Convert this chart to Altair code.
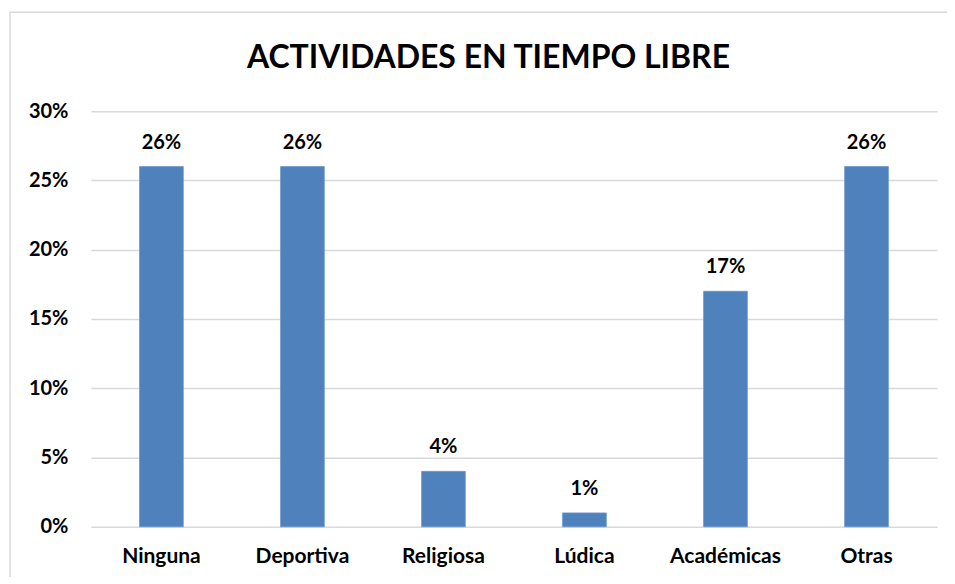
import altair as alt
import pandas as pd

categories = ["Ninguna", "Deportiva", "Religiosa", "Lúdica", "Académicas", "Otras"]
values = [0.26, 0.26, 0.04, 0.01, 0.17, 0.26]
labels = ["26%", "26%", "4%", "1%", "17%", "26%"]
title_text = "ACTIVIDADES EN TIEMPO LIBRE"

df = pd.DataFrame({"cat": categories, "val": values, "lab": labels})
FONT = "Lato"

x = alt.X("cat:N", sort=categories, title=None,
          scale=alt.Scale(paddingInner=0.69, paddingOuter=0.345),
          axis=alt.Axis(labelAngle=0, labelFont=FONT, labelFontSize=21, labelFontWeight="bold",
                        labelColor="#000000", labelPadding=19, ticks=False, domain=False, grid=False))
y = alt.Y("val:Q", title=None,
          scale=alt.Scale(domain=[0, 0.30]),
          axis=alt.Axis(values=[0, 0.05, 0.10, 0.15, 0.20, 0.25, 0.30], format=".0%",
                        labelFont=FONT, labelFontSize=20, labelFontWeight="bold", labelColor="#000000",
                        labelPadding=23, ticks=False, domain=False,
                        gridColor="#d9d9d9", gridWidth=1.5))

base = alt.Chart(df)
bars = base.mark_bar(color="#4F81BD", stroke="#6a96cc", strokeWidth=0.8).encode(x=x, y=y)
text = base.mark_text(font=FONT, fontSize=20, fontWeight="bold", color="#000000",
                      baseline="alphabetic", dy=-18).encode(x=x, y=y, text="lab:N")
one = pd.DataFrame({"t": [title_text]})
border = alt.Chart(one).mark_rect(fill=None, stroke="#d9d9d9", strokeWidth=1.5).encode(
    x=alt.value(-81), x2=alt.value(900), y=alt.value(-99), y2=alt.value(500))
title = alt.Chart(one).mark_text(font=FONT, fontSize=32, fontWeight="bold", color="#000000",
                                 baseline="alphabetic", align="center").encode(
    x=alt.value(398), y=alt.value(-43), text="t:N")

chart = alt.layer(border, title, bars, text).properties(
    width=847, height=416,
    autosize=alt.AutoSizeParams(type="none"),
    padding={"left": 83, "top": 103, "right": 10, "bottom": 50},
).configure_view(stroke=None)

chart.save("out.html", embed_options={"renderer": "svg", "actions": False})
